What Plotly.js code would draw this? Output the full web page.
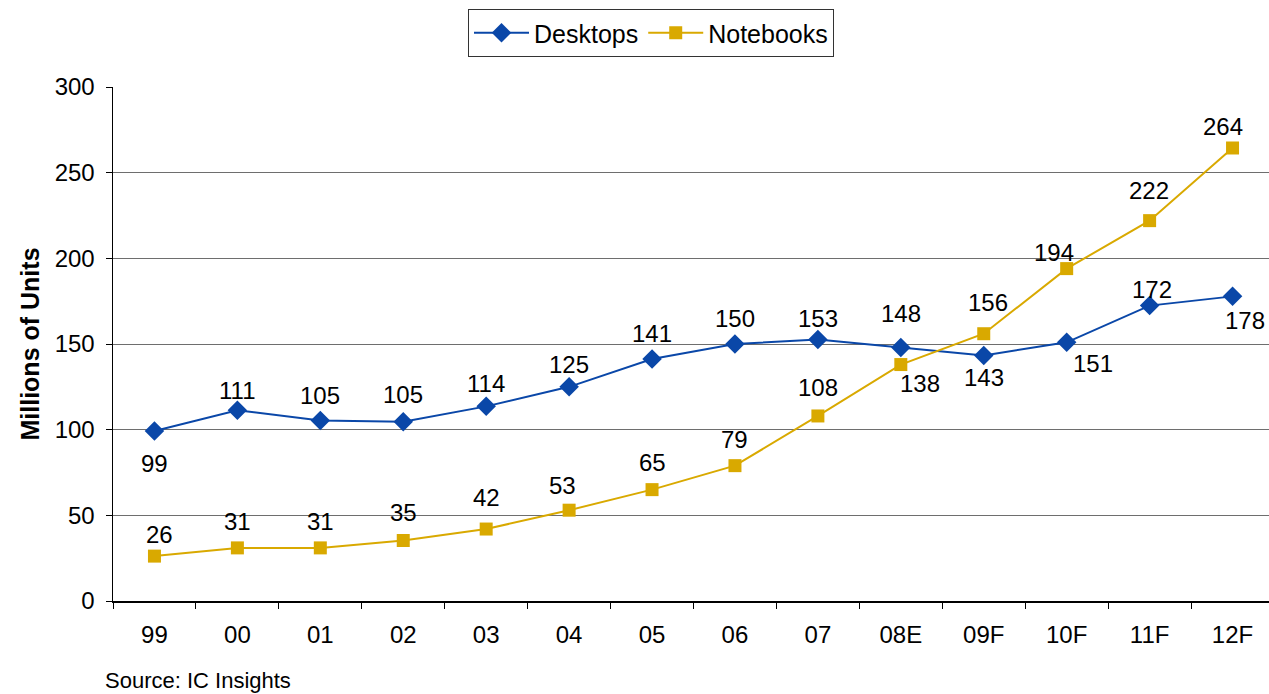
<!DOCTYPE html>
<html>
<head>
<meta charset="utf-8">
<script src="https://cdn.plot.ly/plotly-3.0.1.min.js"></script>
<style>
html,body{margin:0;padding:0;overflow:hidden;background:#fff;}
#chart{width:1280px;height:694px;}
</style>
</head>
<body>
<div id="chart"></div>
<script>
// ---- data ----
const categories = ["99","00","01","02","03","04","05","06","07","08E","09F","10F","11F","12F"];
const desktops   = [99.2, 111.3, 105.4, 104.6, 113.6, 125, 141.2, 150, 152.6, 148, 143.3, 151, 172.4, 177.8];
const notebooks  = [26.2, 31, 31, 35.3, 42, 53, 65, 79, 108, 138, 156, 194, 222, 264.4];
const seriesNames = ["Desktops", "Notebooks"];
const sourceText = "Source: IC Insights";
const yTitle = "Millions of Units";

// ---- label placement (style only: pixel offsets [dx, dy]) ----
const desktopLabelShift = [[0,-32],[0,20],[0,25],[0,27],[0,23],[0,22],[0,26],[0,26],[0,21],[0,34],[0,-22],[26,-21],[2,16],[12,-24]];
const notebookLabelShift = [[5,22],[0,26],[0,26],[0,28],[0,32],[-7,25],[0,27],[0,26],[0,28],[19,-19],[4,31],[-13,16],[-1,30],[-10,21]];

const FONT = "Liberation Sans, Arial, sans-serif";
const BLUE = "#0A47A8";
const GOLD = "#D9A900";

const traces = [
  {
    type: "scatter", mode: "lines+markers", name: seriesNames[0],
    x: categories, y: desktops,
    line: {color: BLUE, width: 2},
    marker: {symbol: "diamond", size: 15, color: BLUE}
  },
  {
    type: "scatter", mode: "lines+markers", name: seriesNames[1],
    x: categories, y: notebooks,
    line: {color: GOLD, width: 2},
    marker: {symbol: "square", size: 13, color: GOLD}
  }
];

const annotations = [];
function addLabels(vals, shifts) {
  vals.forEach((v, i) => {
    annotations.push({
      x: i, y: v, xref: "x", yref: "y",
      text: String(Math.round(v)), showarrow: false,
      xshift: shifts[i][0], yshift: shifts[i][1],
      font: {family: FONT, size: 24, color: "#000"}
    });
  });
}
addLabels(desktops, desktopLabelShift);
addLabels(notebooks, notebookLabelShift);
annotations.push({
  text: sourceText, showarrow: false, xref: "paper", yref: "paper",
  x: (103 - 113) / (1274.5 - 113), y: -(680 - 601) / 514,
  xanchor: "left", yanchor: "middle",
  font: {family: FONT, size: 22, color: "#000"}
});

const layout = {
  width: 1280, height: 694,
  margin: {l: 113, r: 5.5, t: 87, b: 93},
  paper_bgcolor: "#fff", plot_bgcolor: "#fff",
  font: {family: FONT, color: "#000"},
  showlegend: true,
  legend: {
    orientation: "h", xref: "container", yref: "container",
    x: 651 / 1280, xanchor: "center", y: 1 - 9 / 694, yanchor: "top",
    bordercolor: "#333", borderwidth: 1, bgcolor: "#fff",
    font: {family: FONT, size: 25, color: "#000"},
    itemwidth: 55, tracegroupgap: 0
  },
  xaxis: {
    type: "category",
    showline: true, linecolor: "#000", linewidth: 1.5,
    ticks: "outside", tickson: "boundaries", ticklen: 6, tickcolor: "#000", tickwidth: 1,
    showgrid: false, zeroline: false,
    tickfont: {family: FONT, size: 24, color: "#000"},
    ticklabelstandoff: 12,
    range: [-0.5, 13.5]
  },
  yaxis: {
    range: [0, 300], dtick: 50, tick0: 0,
    showline: true, linecolor: "#000", linewidth: 1.5,
    ticks: "outside", ticklen: 6, tickcolor: "#000", tickwidth: 1,
    showgrid: true, gridcolor: "#6e6e6e", gridwidth: 1,
    zeroline: false,
    tickfont: {family: FONT, size: 24, color: "#000"},
    ticklabelstandoff: 6,
    title: {text: yTitle, font: {family: FONT, size: 25, color: "#000", weight: "bold"}, standoff: 8}
  },
  annotations: annotations
};

Plotly.newPlot("chart", traces, layout, {displayModeBar: false, staticPlot: true});
</script>
</body>
</html>
